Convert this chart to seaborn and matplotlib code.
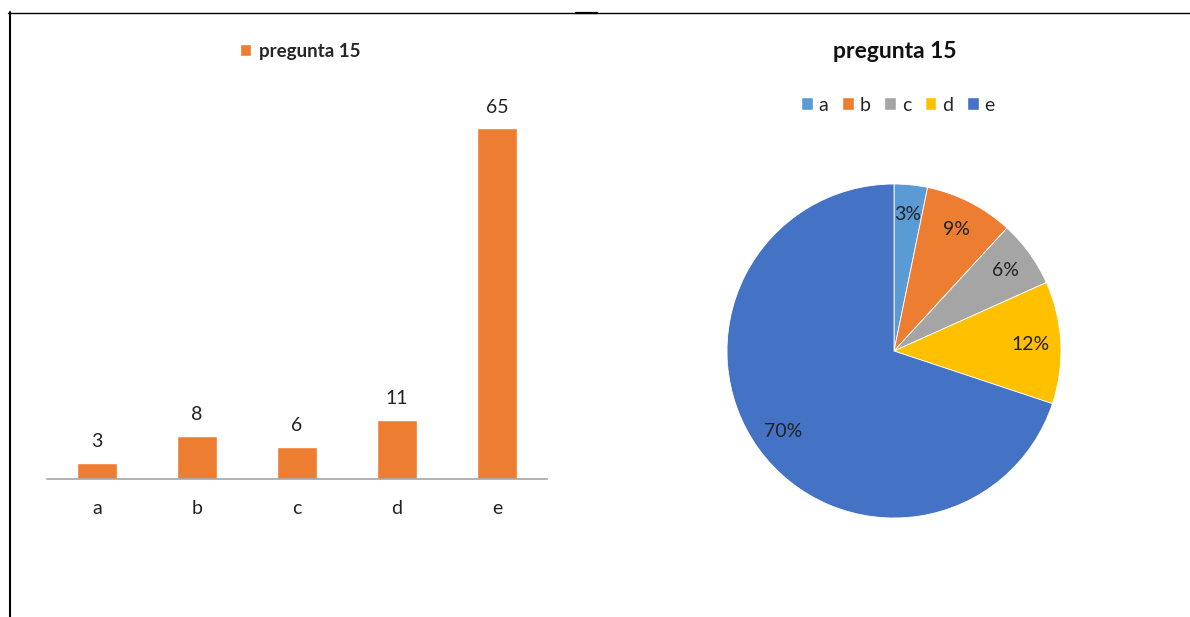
import matplotlib
matplotlib.use("Agg")
import matplotlib.pyplot as plt
from matplotlib.lines import Line2D
from matplotlib.patches import Patch
import seaborn as sns
import pandas as pd

categories = ["a", "b", "c", "d", "e"]
counts = [3, 8, 6, 11, 65]
series_name = "pregunta 15"
pie_colors = ["#5B9BD5", "#ED7D31", "#A5A5A5", "#FFC000", "#4472C4"]
bar_color = "#ED7D31"

sns.set_style("white")
plt.rcParams["font.family"] = ["Lato", "DejaVu Sans"]

W, H = 1190, 617
fig = plt.figure(figsize=(W / 100, H / 100), dpi=100)

def fx(px):
    return px / W

def fy(py):
    return 1 - py / H

# ---- Bar chart ----
ax = fig.add_axes([fx(47), fy(479), fx(547) - fx(47), fy(101) - fy(479)])
df = pd.DataFrame({"cat": categories, "val": counts})
sns.barplot(data=df, x="cat", y="val", color=bar_color, width=0.4,
            saturation=1, ax=ax, label=series_name)
ax.set_xlim(-0.5, 4.5)
ax.set_ylim(0, 70)
for c in ax.containers:
    ax.bar_label(c, padding=9, fontsize=14, color="#222222")
for s in ["top", "right", "left"]:
    ax.spines[s].set_visible(False)
ax.spines["bottom"].set_color("#A6A6A6")
ax.spines["bottom"].set_linewidth(1.2)
ax.set_yticks([])
ax.set_xlabel("")
ax.set_ylabel("")
ax.tick_params(axis="x", length=0, pad=15, labelsize=14, colors="#222222")
ax.legend(handles=[Patch(facecolor=bar_color, label=series_name)],
          loc="center", bbox_to_anchor=(fx(300), fy(51)), bbox_transform=fig.transFigure,
          frameon=False, handlelength=0.6, handleheight=0.6, handletextpad=0.4,
          prop={"weight": "bold", "size": 13.5})

# ---- Pie chart ----
cx, cy, r = 894, 351, 167
pax = fig.add_axes([fx(cx - r), fy(cy + r), (2 * r) / W, (2 * r) / H])
wedges, texts, autotexts = pax.pie(counts, colors=pie_colors, startangle=90, counterclock=False,
                                   autopct=lambda p: f"{p:.0f}%", pctdistance=0.82,
                                   wedgeprops={"edgecolor": "white", "linewidth": 0.6},
                                   textprops={"fontsize": 14, "color": "#222222"})
pax.set_xlim(-1, 1)
pax.set_ylim(-1, 1)
pax.set_aspect("auto")
pax.axis("off")

fig.text(fx(895), fy(52), series_name, ha="center", va="center",
         fontsize=16.5, fontweight="bold", color="#111111")
fig.legend(handles=[Patch(facecolor=col, label=cat) for cat, col in zip(categories, pie_colors)],
           loc="center", bbox_to_anchor=(fx(898), fy(105)), ncol=5, frameon=False,
           handlelength=0.6, handleheight=0.6, handletextpad=0.3, columnspacing=0.7,
           prop={"size": 14})

# ---- Border lines ----
fig.add_artist(Line2D([fx(8), fx(1190)], [fy(12.5), fy(12.5)], color="black", lw=1.0))
fig.add_artist(Line2D([fx(9.5), fx(9.5)], [fy(12), fy(617)], color="black", lw=1.5))
fig.add_artist(Line2D([fx(576), fx(597)], [fy(13), fy(13)], color="black", lw=1.6))

fig.savefig("out.png", dpi=100)
